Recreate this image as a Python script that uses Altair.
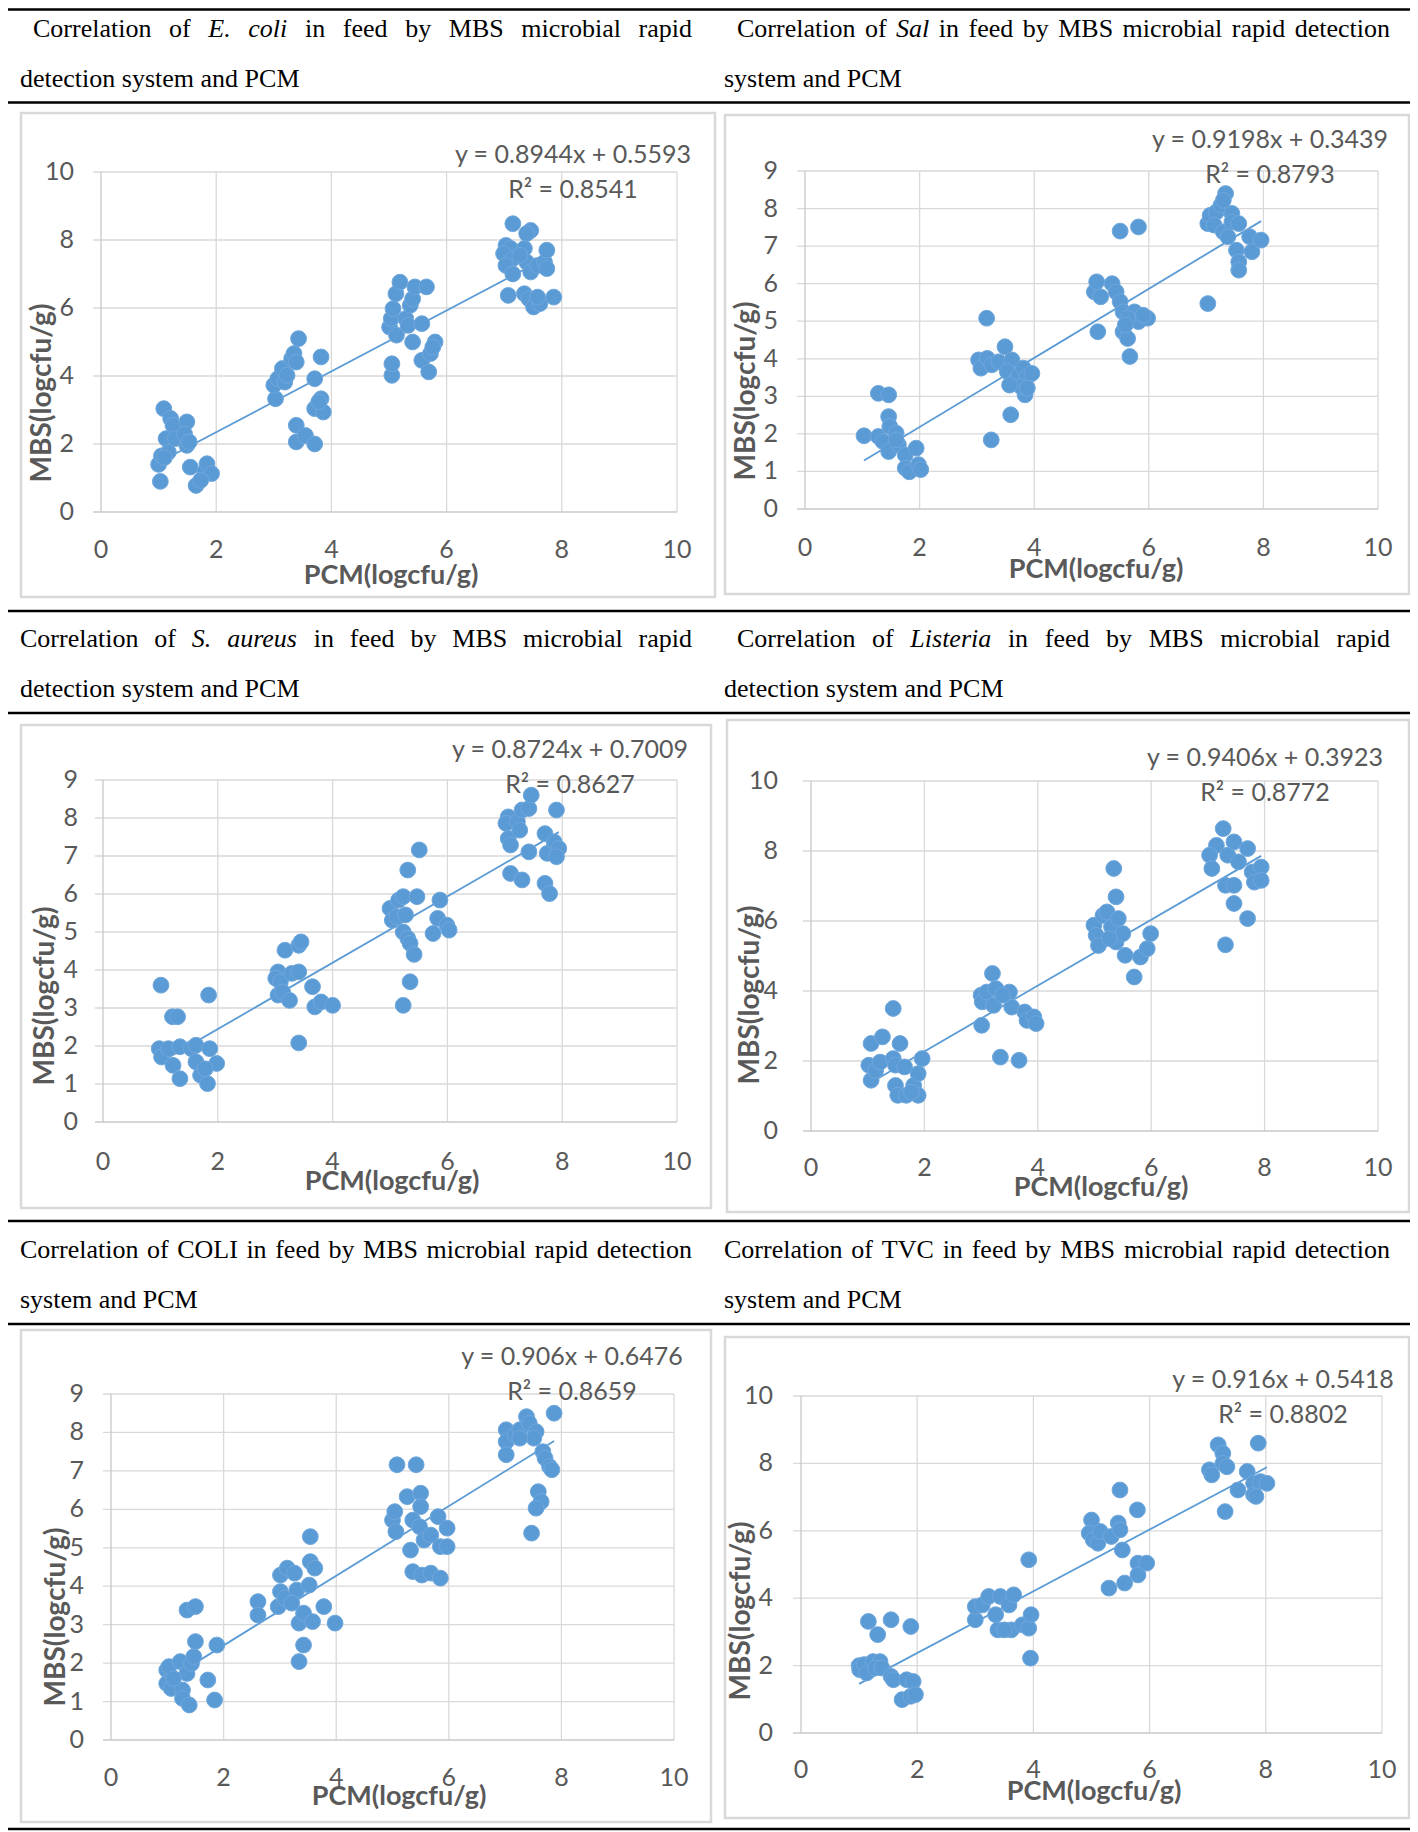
import altair as alt
import pandas as pd

# ---------------- values ----------------
ecoli_pcm = [1.03, 1.00, 1.05, 1.09, 1.21, 1.25, 1.13, 1.17, 1.29, 1.49, 1.45, 1.49, 1.53, 1.55, 1.65, 1.80, 1.84, 1.92, 1.73, 1.10,
             3.03, 3.00, 3.07, 3.15, 3.19, 3.31, 3.35, 3.39, 3.43, 3.39, 3.39, 3.55, 3.71, 3.71, 3.82, 3.71, 3.82, 3.86, 3.78, 3.23,
             5.05, 5.05, 5.01, 5.04, 5.07, 5.12, 5.19, 5.13, 5.29, 5.33, 5.37, 5.41, 5.45, 5.65, 5.57, 5.41, 5.57, 5.69, 5.72, 5.80, 5.76,
             7.15, 7.46, 7.39, 7.03, 7.11, 6.99, 7.15, 7.03, 7.15, 7.35, 7.39, 7.46, 7.58, 7.70, 7.74, 7.74, 7.07, 7.35, 7.43, 7.51, 7.62, 7.86, 7.58, 7.27]
ecoli_mbs = [0.90, 1.40, 1.65, 3.04, 2.75, 2.55, 2.16, 1.76, 2.16, 2.65, 2.30, 1.96, 2.06, 1.32, 0.78, 1.18, 1.42, 1.13, 0.93, 1.60,
             3.33, 3.73, 3.92, 4.22, 3.82, 4.51, 4.66, 4.41, 5.10, 2.55, 2.06, 2.25, 2.00, 3.92, 4.56, 3.04, 3.33, 2.94, 3.24, 4.02,
             4.02, 4.36, 5.44, 5.69, 5.98, 6.42, 6.76, 5.20, 5.69, 5.49, 6.08, 6.27, 6.62, 6.62, 5.54, 5.00, 4.46, 4.12, 4.66, 5.00, 4.85,
             8.48, 8.28, 8.19, 7.84, 7.75, 7.60, 7.45, 7.25, 7.00, 7.75, 7.35, 7.06, 7.25, 7.35, 7.70, 7.16, 6.37, 6.42, 6.27, 6.03, 6.13, 6.32, 6.32, 7.55]
ecoli_fit = [0.8944, 0.5593, "0.8541"]

sal_pcm = [1.03, 1.28, 1.46, 1.46, 1.28, 1.36, 1.46, 1.48, 1.59, 1.63, 1.75, 1.75, 1.82, 1.94, 1.98, 2.02, 1.59,
           3.17, 3.25, 3.59, 3.03, 3.07, 3.18, 3.26, 3.38, 3.49, 3.61, 3.53, 3.65, 3.73, 3.81, 3.88, 3.96, 3.84, 3.77, 3.88, 3.57,
           5.05, 5.09, 5.16, 5.36, 5.43, 5.11, 5.50, 5.82, 5.50, 5.55, 5.55, 5.63, 5.67, 5.75, 5.82, 5.98, 5.90, 5.63, 5.59,
           7.03, 7.07, 7.18, 7.26, 7.34, 7.30, 7.14, 7.30, 7.38, 7.45, 7.45, 7.57, 7.53, 7.57, 7.57, 7.76, 7.80, 7.96, 7.03]
sal_mbs = [1.95, 3.08, 3.04, 2.46, 1.93, 1.80, 1.53, 2.20, 2.02, 1.71, 1.44, 1.09, 0.99, 1.62, 1.18, 1.05, 1.84,
           5.08, 1.84, 2.51, 3.97, 3.75, 4.01, 3.84, 3.92, 4.32, 3.97, 3.66, 3.39, 3.57, 3.75, 3.53, 3.61, 3.04, 3.26, 3.22, 3.30,
           5.78, 6.05, 5.65, 6.00, 5.78, 4.72, 7.40, 7.51, 5.52, 5.25, 4.72, 4.54, 4.06, 5.25, 4.99, 5.08, 5.16, 5.08, 4.90,
           7.60, 7.82, 7.91, 8.09, 8.40, 8.22, 7.56, 7.38, 7.25, 7.87, 7.64, 7.60, 6.89, 6.58, 6.36, 7.25, 6.85, 7.16, 5.47]
sal_fit = [0.9198, 0.3439, "0.8793"]

saureus_pcm = [1.01, 1.21, 1.30, 0.98, 1.02, 1.14, 1.22, 1.34, 1.34, 1.54, 1.62, 1.62, 1.70, 1.82, 1.86, 1.98, 1.84, 1.78,
               3.05, 3.01, 3.09, 3.05, 3.13, 3.25, 3.17, 3.41, 3.45, 3.29, 3.41, 3.65, 3.69, 3.80, 4.00, 3.41,
               5.00, 5.04, 5.12, 5.15, 5.23, 5.31, 5.51, 5.47, 5.23, 5.31, 5.35, 5.42, 5.35, 5.23, 5.27, 5.75, 5.83, 5.87, 5.99, 6.03,
               7.06, 7.02, 7.06, 7.10, 7.22, 7.26, 7.30, 7.42, 7.46, 7.90, 7.42, 7.10, 7.30, 7.70, 7.74, 7.86, 7.94, 7.90, 7.70, 7.78]
saureus_mbs = [3.60, 2.77, 2.77, 1.93, 1.71, 1.93, 1.49, 1.14, 1.98, 1.93, 2.02, 1.58, 1.23, 1.01, 1.93, 1.54, 3.34, 1.40,
               3.95, 3.78, 3.69, 3.34, 3.42, 3.20, 4.52, 4.65, 4.74, 3.91, 3.95, 3.56, 3.03, 3.16, 3.07, 2.08,
               5.62, 5.31, 5.40, 5.84, 5.93, 6.63, 7.16, 5.93, 5.00, 4.83, 4.70, 4.41, 3.69, 3.07, 5.45, 4.96, 5.36, 5.84, 5.18, 5.05,
               8.03, 7.86, 7.46, 7.29, 7.90, 7.68, 8.21, 8.25, 8.60, 8.21, 7.11, 6.54, 6.37, 7.59, 7.07, 7.37, 7.20, 6.98, 6.28, 6.01]
saureus_fit = [0.8724, 0.7009, "0.8627"]

listeria_pcm = [1.06, 1.26, 1.57, 1.45, 1.02, 1.06, 1.14, 1.22, 1.45, 1.49, 1.65, 1.49, 1.53, 1.68, 1.81, 1.89, 1.89, 1.96, 1.77,
                3.01, 3.00, 3.02, 3.10, 3.20, 3.26, 3.22, 3.50, 3.54, 3.34, 3.67, 3.77, 3.81, 3.93, 3.97, 3.38,
                4.99, 5.03, 5.07, 5.15, 5.22, 5.30, 5.34, 5.38, 5.42, 5.38, 5.50, 5.54, 5.70, 5.81, 5.93, 5.99, 5.26,
                7.27, 7.15, 7.03, 7.07, 7.46, 7.35, 7.54, 7.70, 7.31, 7.46, 7.46, 7.70, 7.31, 7.78, 7.82, 7.94, 7.94]
listeria_mbs = [2.50, 2.69, 2.50, 3.50, 1.88, 1.45, 1.73, 1.97, 2.07, 1.88, 1.83, 1.30, 1.02, 1.02, 1.30, 1.64, 1.02, 2.07, 1.11,
                3.02, 3.88, 3.69, 3.97, 4.50, 4.07, 3.59, 3.97, 3.54, 2.11, 2.02, 3.40, 3.16, 3.26, 3.07, 3.88,
                5.88, 5.59, 5.30, 6.16, 6.26, 5.83, 7.50, 6.69, 6.07, 5.40, 5.64, 5.02, 4.40, 4.97, 5.21, 5.64, 5.50,
                8.64, 8.16, 7.88, 7.50, 8.26, 7.88, 7.69, 8.07, 7.02, 7.02, 6.50, 6.07, 5.32, 7.40, 7.11, 7.54, 7.16]
listeria_fit = [0.9406, 0.3923, "0.8772"]

coli_pcm = [0.99, 1.03, 0.99, 1.07, 1.23, 1.27, 1.27, 1.39, 1.35, 1.43, 1.47, 1.35, 1.50, 1.50, 1.72, 1.84, 1.88, 1.11,
            2.61, 2.61, 2.97, 3.01, 3.13, 3.26, 3.01, 3.09, 3.30, 3.34, 3.42, 3.54, 3.54, 3.62, 3.52, 3.78, 3.98, 3.42, 3.34, 3.58, 3.21,
            5.08, 5.42, 5.00, 5.04, 5.06, 5.26, 5.32, 5.36, 5.50, 5.50, 5.36, 5.48, 5.56, 5.68, 5.52, 5.68, 5.85, 5.81, 5.85, 5.97, 5.97,
            7.02, 7.02, 7.02, 7.18, 7.26, 7.38, 7.43, 7.55, 7.51, 7.67, 7.71, 7.79, 7.83, 7.87, 7.59, 7.64, 7.55, 7.47, 7.26]
coli_mbs = [1.82, 1.91, 1.47, 1.34, 2.04, 1.30, 1.08, 0.91, 1.73, 1.99, 2.17, 3.38, 3.47, 2.56, 1.56, 1.04, 2.47, 1.60,
            3.60, 3.25, 3.47, 4.29, 4.47, 4.34, 3.86, 3.69, 3.90, 3.04, 3.30, 5.29, 4.64, 4.47, 4.03, 3.47, 3.04, 2.47, 2.04, 3.08, 3.56,
            7.16, 7.16, 5.72, 5.94, 5.42, 6.33, 4.94, 4.38, 6.42, 6.07, 5.72, 5.55, 5.20, 5.33, 4.29, 4.34, 4.21, 5.81, 5.03, 5.51, 5.03,
            8.07, 7.76, 7.42, 7.94, 8.07, 8.41, 8.24, 8.02, 7.85, 7.50, 7.33, 7.11, 7.03, 8.50, 6.46, 6.20, 6.03, 5.38, 7.85]
coli_fit = [0.906, 0.6476, "0.8659"]

tvc_pcm = [1.00, 1.01, 1.09, 1.13, 1.16, 1.32, 1.24, 1.36, 1.28, 1.39, 1.55, 1.55, 1.59, 1.74, 1.82, 1.89, 1.93, 1.89, 1.97,
           3.00, 3.00, 3.12, 3.23, 3.39, 3.35, 3.43, 3.58, 3.66, 3.62, 3.81, 3.92, 3.96, 3.92, 3.95, 3.50,
           5.00, 4.96, 5.03, 5.11, 5.15, 5.34, 5.46, 5.49, 5.49, 5.53, 5.30, 5.57, 5.79, 5.80, 5.80, 5.95,
           7.03, 7.07, 7.18, 7.26, 7.26, 7.33, 7.30, 7.52, 7.68, 7.79, 7.79, 7.87, 7.91, 8.02, 7.83]
tvc_mbs = [2.00, 1.88, 2.03, 1.78, 3.31, 2.92, 2.12, 2.12, 1.93, 1.93, 3.36, 1.68, 1.58, 0.99, 1.58, 3.16, 1.53, 1.09, 1.14,
           3.36, 3.75, 3.80, 4.05, 3.06, 3.51, 4.05, 3.80, 4.10, 3.06, 3.21, 3.11, 3.51, 5.14, 2.22, 3.06,
           6.32, 5.93, 5.73, 5.63, 5.98, 5.83, 6.23, 6.03, 7.21, 5.43, 4.30, 4.45, 6.62, 5.04, 4.69, 5.04,
           7.81, 7.66, 8.55, 8.30, 8.00, 7.90, 6.57, 7.21, 7.76, 7.41, 7.07, 8.60, 7.46, 7.41, 7.02]
tvc_fit = [0.916, 0.5418, "0.8802"]

x_ticks = [0, 2, 4, 6, 8, 10]
x_title = "PCM(logcfu/g)"
y_title = "MBS(logcfu/g)"

# ---------------- styling / layout ----------------
OFF = 8                      # page margin: page coords -> view coords
BLUE = "#5B9BD5"
EDGE = "#6FA7DC"
GRID = "#D9D9D9"
AXIS = "#C8C8C8"
LABEL = "#595959"
SANS = "Lato"
SERIF = "Liberation Serif"
W, H = 1402, 1824

panels = [
    dict(pcm=ecoli_pcm, mbs=ecoli_mbs, fit=ecoli_fit, ymax=10, ystep=2,
         x0=101, x1=677, yb=512, yt=172, eq=(573, 155), r2=(573, 190),
         ytl=(43, 393), xtl=(391, 576), box=(21, 113, 715, 597), ylr=74, xly=550),
    dict(pcm=sal_pcm, mbs=sal_mbs, fit=sal_fit, ymax=9, ystep=1,
         x0=805, x1=1378, yb=509, yt=171, eq=(1270, 140), r2=(1270, 175),
         ytl=(747, 391), xtl=(1096, 570), box=(725, 115, 1409, 594), ylr=778, xly=548),
    dict(pcm=saureus_pcm, mbs=saureus_mbs, fit=saureus_fit, ymax=9, ystep=1,
         x0=103, x1=677, yb=1122, yt=780, eq=(570, 750), r2=(570, 785),
         ytl=(46, 996), xtl=(392, 1182), box=(21, 725, 711, 1208), ylr=78, xly=1162),
    dict(pcm=listeria_pcm, mbs=listeria_mbs, fit=listeria_fit, ymax=10, ystep=2,
         x0=811, x1=1378, yb=1131, yt=781, eq=(1265, 758), r2=(1265, 793),
         ytl=(751, 995), xtl=(1101, 1188), box=(727, 720, 1409, 1212), ylr=778, xly=1168),
    dict(pcm=coli_pcm, mbs=coli_mbs, fit=coli_fit, ymax=9, ystep=1,
         x0=111, x1=674, yb=1740, yt=1394, eq=(572, 1357), r2=(572, 1392),
         ytl=(57, 1617), xtl=(399, 1797), box=(21, 1330, 711, 1822), ylr=84, xly=1778),
    dict(pcm=tvc_pcm, mbs=tvc_mbs, fit=tvc_fit, ymax=10, ystep=2,
         x0=801, x1=1382, yb=1733, yt=1396, eq=(1283, 1380), r2=(1283, 1415),
         ytl=(742, 1611), xtl=(1094, 1792), box=(725, 1337, 1409, 1818), ylr=773, xly=1770),
]

# Times New Roman advance widths (1/1000 em) for the justified caption lines
TNR = dict(zip("abcdefghijklmnopqrstuvwxyz", [444, 500, 444, 500, 444, 333, 500, 500, 278, 278, 500, 278, 778,
                                              500, 500, 500, 500, 333, 389, 278, 500, 500, 722, 500, 500, 444]))
TNR.update(dict(zip("ABCDEFGHIJKLMNOPQRSTUVWXYZ", [722, 667, 667, 722, 611, 556, 722, 722, 333, 389, 722, 611, 889,
                                                  722, 722, 556, 722, 667, 556, 611, 722, 722, 944, 722, 722, 611])))
TNR["."] = 250
TNRI = dict(zip("abcdefghijklmnopqrstuvwxyz", [500, 500, 444, 500, 444, 278, 500, 500, 278, 278, 444, 278, 722,
                                               500, 500, 500, 500, 389, 389, 278, 500, 444, 667, 444, 444, 389]))
TNRI.update({"E": 611, "L": 556, "S": 500, ".": 250})
TSIZE = 26

captions = [
    ("Correlation of E. coli in feed by MBS microbial rapid", {"E.", "coli"}, 33, 692, 29),
    ("detection system and PCM", set(), 20, None, 79),
    ("Correlation of Sal in feed by MBS microbial rapid detection", {"Sal"}, 737, 1390, 29),
    ("system and PCM", set(), 724, None, 79),
    ("Correlation of S. aureus in feed by MBS microbial rapid", {"S.", "aureus"}, 20, 692, 639),
    ("detection system and PCM", set(), 20, None, 689),
    ("Correlation of Listeria in feed by MBS microbial rapid", {"Listeria"}, 737, 1390, 639),
    ("detection system and PCM", set(), 724, None, 689),
    ("Correlation of COLI in feed by MBS microbial rapid detection", set(), 20, 692, 1250),
    ("system and PCM", set(), 20, None, 1300),
    ("Correlation of TVC in feed by MBS microbial rapid detection", set(), 724, 1390, 1250),
    ("system and PCM", set(), 724, None, 1300),
]


def wwidth(word, italic):
    table = TNRI if italic else TNR
    return sum(table.get(c, 500) for c in word) * TSIZE / 1000.0


rows = []
for text, ital, xs, xe, yy in captions:
    words = text.split(" ")
    widths = [wwidth(w, w in ital) for w in words]
    if xe is None:
        gap = 250 * TSIZE / 1000.0
    else:
        gap = (xe - xs - sum(widths)) / (len(words) - 1)
    cx = xs
    for w, wd in zip(words, widths):
        rows.append(dict(word=w, x=cx - OFF, y=yy - OFF, italic=w in ital))
        cx += wd + gap
cap_df = pd.DataFrame(rows)

layers = []

# horizontal black rules of the table
rule_df = pd.DataFrame({"y": [1.5, 102.5 - OFF, 611 - OFF, 713 - OFF, 1221 - OFF, 1324 - OFF, 1829 - OFF]})
layers.append(alt.Chart(rule_df).mark_rule(color="black", strokeWidth=2.5).encode(
    y=alt.Y("y:Q", scale=None), x=alt.value(0), x2=alt.value(W)))

# caption words
for it in (False, True):
    layers.append(alt.Chart(cap_df[cap_df["italic"] == it]).mark_text(
        font=SERIF, fontSize=TSIZE, color="black", align="left", baseline="middle",
        fontStyle="italic" if it else "normal").encode(
        x=alt.X("x:Q", scale=None), y=alt.Y("y:Q", scale=None), text="word:N"))

one = pd.DataFrame({"k": [0]})

for p in panels:
    sx = alt.Scale(domain=[0, 10], range=[p["x0"] - OFF, p["x1"] - OFF], nice=False, zero=False)
    sy = alt.Scale(domain=[0, p["ymax"]], range=[p["yb"] - OFF, p["yt"] - OFF], nice=False, zero=False)
    xt = pd.DataFrame({"t": x_ticks})
    yt = pd.DataFrame({"t": list(range(0, p["ymax"] + 1, p["ystep"]))})
    l, t, r, b = p["box"]

    # chart-area border
    layers.append(alt.Chart(one).mark_rect(fillOpacity=0, stroke=GRID, strokeWidth=2.5).encode(
        x=alt.value(l - OFF), x2=alt.value(r - OFF), y=alt.value(t - OFF), y2=alt.value(b - OFF)))
    # gridlines
    layers.append(alt.Chart(xt[xt["t"] > 0]).mark_rule(color=GRID, strokeWidth=1.3).encode(
        x=alt.X("t:Q", scale=sx, axis=None), y=alt.value(p["yt"] - OFF), y2=alt.value(p["yb"] - OFF)))
    layers.append(alt.Chart(yt[yt["t"] > 0]).mark_rule(color=GRID, strokeWidth=1.3).encode(
        y=alt.Y("t:Q", scale=sy, axis=None), x=alt.value(p["x0"] - OFF - 8), x2=alt.value(p["x1"] - OFF)))
    # axis lines
    layers.append(alt.Chart(xt[xt["t"] == 0]).mark_rule(color=AXIS, strokeWidth=1.3).encode(
        x=alt.X("t:Q", scale=sx, axis=None), y=alt.value(p["yt"] - OFF), y2=alt.value(p["yb"] - OFF)))
    layers.append(alt.Chart(yt[yt["t"] == 0]).mark_rule(color=AXIS, strokeWidth=1.3).encode(
        y=alt.Y("t:Q", scale=sy, axis=None), x=alt.value(p["x0"] - OFF - 8), x2=alt.value(p["x1"] - OFF)))
    # tick labels
    layers.append(alt.Chart(xt).mark_text(font=SANS, fontSize=25, color=LABEL, align="center",
                                          baseline="middle").encode(
        x=alt.X("t:Q", scale=sx, axis=None), y=alt.value(p["xly"] - OFF), text=alt.Text("t:Q", format="d")))
    layers.append(alt.Chart(yt).mark_text(font=SANS, fontSize=25, color=LABEL, align="right",
                                          baseline="middle").encode(
        y=alt.Y("t:Q", scale=sy, axis=None), x=alt.value(p["ylr"] - OFF), text=alt.Text("t:Q", format="d")))
    # axis titles
    layers.append(alt.Chart(pd.DataFrame({"s": [x_title]})).mark_text(
        font=SANS, fontSize=27, fontWeight="bold", color=LABEL, align="center", baseline="middle").encode(
        x=alt.value(p["xtl"][0] - OFF), y=alt.value(p["xtl"][1] - OFF), text="s:N"))
    layers.append(alt.Chart(pd.DataFrame({"s": [y_title]})).mark_text(
        font=SANS, fontSize=28, fontWeight="bold", color=LABEL, align="center", baseline="middle",
        angle=270).encode(
        x=alt.value(p["ytl"][0] - OFF), y=alt.value(p["ytl"][1] - OFF), text="s:N"))

    # trend line (Excel linear trendline from the printed equation, over the data range)
    slope, icpt, r2 = p["fit"]
    lo, hi = min(p["pcm"]), max(p["pcm"])
    tl = pd.DataFrame({"pcm": [lo, hi], "mbs": [slope * lo + icpt, slope * hi + icpt]})
    layers.append(alt.Chart(tl).mark_line(color=BLUE, strokeWidth=1.8).encode(
        x=alt.X("pcm:Q", scale=sx, axis=None), y=alt.Y("mbs:Q", scale=sy, axis=None)))

    # points
    df = pd.DataFrame({"pcm": p["pcm"], "mbs": p["mbs"]})
    layers.append(alt.Chart(df).mark_circle(size=250, fill=BLUE, fillOpacity=1, stroke=EDGE,
                                            strokeWidth=1).encode(
        x=alt.X("pcm:Q", scale=sx, axis=None), y=alt.Y("mbs:Q", scale=sy, axis=None)))

    # equation labels
    eq_txt = "y = %sx + %s" % (("%g" % slope), ("%g" % icpt))
    layers.append(alt.Chart(pd.DataFrame({"s": [eq_txt]})).mark_text(
        font=SANS, fontSize=25, color=LABEL, align="center", baseline="middle").encode(
        x=alt.value(p["eq"][0] - OFF), y=alt.value(p["eq"][1] - OFF), text="s:N"))
    layers.append(alt.Chart(pd.DataFrame({"s": ["R\u00b2 = " + r2]})).mark_text(
        font=SANS, fontSize=25, color=LABEL, align="center", baseline="middle").encode(
        x=alt.value(p["r2"][0] - OFF), y=alt.value(p["r2"][1] - OFF), text="s:N"))

chart = alt.layer(*layers).resolve_scale(x="independent", y="independent").properties(
    width=W, height=H, padding=0, background="white",
    autosize=alt.AutoSizeParams(type="none"),
).configure_view(strokeWidth=0)

chart.save("out.html", embed_options={"renderer": "svg", "actions": False})
